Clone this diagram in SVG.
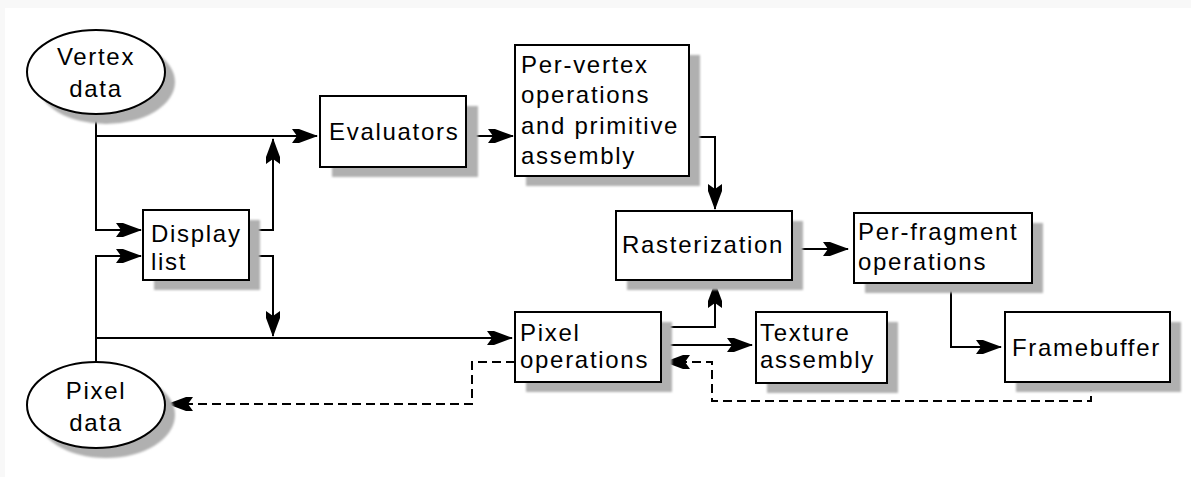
<svg xmlns="http://www.w3.org/2000/svg" width="1191" height="477" viewBox="0 0 1191 477">
<defs>
<style>
.box{fill:#fff;stroke:#000;stroke-width:2}
.sh{fill:#b0b0b0;filter:url(#blur)}
.t{font-family:"Liberation Sans",Arial,sans-serif;font-size:24px;letter-spacing:1.7px;fill:#000}
.c{fill:none;stroke:#000;stroke-width:2}
.d{fill:none;stroke:#000;stroke-width:2;stroke-dasharray:9 5}
</style>
<filter id="blur" x="-10%" y="-10%" width="120%" height="120%"><feGaussianBlur stdDeviation="1"/></filter>
<marker id="ah" markerUnits="userSpaceOnUse" markerWidth="30" markerHeight="20" viewBox="-26 -10 30 20" refX="0" refY="0" orient="auto">
<path d="M1,0 L-10,-4 L-18,-7 L-25,-7 L-20,0 L-25,7 L-18,7 L-10,4 Z" fill="#000"/>
</marker>
</defs>
<rect x="0" y="0" width="1191" height="477" fill="#fff"/>
<rect x="0" y="0" width="1191" height="8" fill="#f8f8f8"/>
<rect x="0" y="0" width="5" height="477" fill="#f8f8f8"/>

<g id="connectors">
<path class="c" d="M96,115 V230 H141" marker-end="url(#ah)"/>
<path class="c" d="M96,136 H317" marker-end="url(#ah)"/>
<path class="c" d="M249,230 H273 V139" marker-end="url(#ah)"/>
<path class="c" d="M249,256 H273 V336" marker-end="url(#ah)"/>
<path class="c" d="M96,362 V256 H141" marker-end="url(#ah)"/>
<path class="c" d="M96,338 H512" marker-end="url(#ah)"/>
<path class="c" d="M466,136 H513" marker-end="url(#ah)"/>
<path class="c" d="M689,137 H715 V209" marker-end="url(#ah)"/>
<path class="c" d="M792,249 H848" marker-end="url(#ah)"/>
<path class="c" d="M951,283 V347 H1001" marker-end="url(#ah)"/>
<path class="c" d="M661,327 H715 V283" marker-end="url(#ah)"/>
<path class="c" d="M661,345 H752" marker-end="url(#ah)"/>
<path class="d" d="M1091,382 V401 H712 V362 H665" marker-end="url(#ah)"/>
<path class="d" d="M515,362 H472 V404 H168" marker-end="url(#ah)"/>
</g>

<g id="vertex-data">
<ellipse class="sh" cx="106" cy="82" rx="69" ry="42"/>
<ellipse class="box" cx="96" cy="72" rx="69" ry="42"/>
<text class="t" x="96" y="65" text-anchor="middle">Vertex</text>
<text class="t" x="96" y="97" text-anchor="middle">data</text>
</g>

<g id="pixel-data">
<ellipse class="sh" cx="106" cy="415" rx="69" ry="43"/>
<ellipse class="box" cx="96" cy="405" rx="69" ry="43"/>
<text class="t" x="96" y="399" text-anchor="middle">Pixel</text>
<text class="t" x="96" y="431" text-anchor="middle">data</text>
</g>

<g id="display-list">
<rect class="sh" x="154" y="220" width="106" height="70"/>
<rect class="box" x="143" y="210" width="106" height="70"/>
<text class="t" x="151" y="242">Display</text>
<text class="t" x="151" y="270">list</text>
</g>

<g id="evaluators">
<rect class="sh" x="332" y="106" width="146" height="71"/>
<rect class="box" x="320" y="96" width="146" height="71"/>
<text class="t" x="329" y="140">Evaluators</text>
</g>

<g id="per-vertex">
<rect class="sh" x="526" y="55" width="174" height="131"/>
<rect class="box" x="515" y="45" width="174" height="131"/>
<text class="t" x="521" y="73">Per-vertex</text>
<text class="t" x="521" y="103">operations</text>
<text class="t" x="521" y="134">and primitive</text>
<text class="t" x="521" y="164">assembly</text>
</g>

<g id="rasterization">
<rect class="sh" x="627" y="221" width="176" height="69"/>
<rect class="box" x="616" y="211" width="176" height="69"/>
<text class="t" x="622" y="253">Rasterization</text>
</g>

<g id="per-fragment">
<rect class="sh" x="865" y="223" width="178" height="70"/>
<rect class="box" x="854" y="213" width="178" height="70"/>
<text class="t" x="858" y="240">Per-fragment</text>
<text class="t" x="858" y="270">operations</text>
</g>

<g id="framebuffer">
<rect class="sh" x="1016" y="322" width="165" height="70"/>
<rect class="box" x="1005" y="312" width="165" height="70"/>
<text class="t" x="1012" y="356">Framebuffer</text>
</g>

<g id="pixel-operations">
<rect class="sh" x="526" y="322" width="146" height="70"/>
<rect class="box" x="515" y="312" width="146" height="70"/>
<text class="t" x="520" y="341">Pixel</text>
<text class="t" x="520" y="368">operations</text>
</g>

<g id="texture-assembly">
<rect class="sh" x="767" y="322" width="131" height="71"/>
<rect class="box" x="756" y="312" width="131" height="71"/>
<text class="t" x="760" y="341">Texture</text>
<text class="t" x="760" y="368">assembly</text>
</g>
</svg>
